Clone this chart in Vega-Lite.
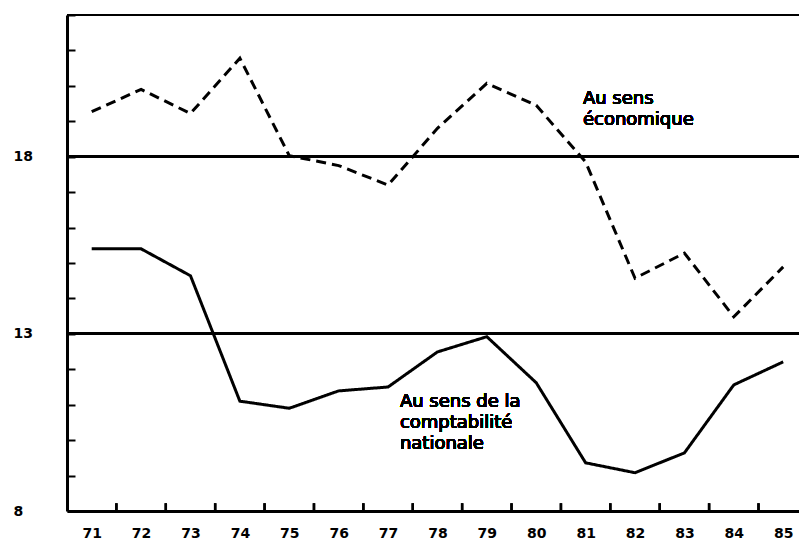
{
  "$schema": "https://vega.github.io/schema/vega-lite/v6.json",
  "width": 732,
  "height": 496,
  "autosize": {"type": "none"},
  "padding": {"left": 67, "top": 15, "right": 0, "bottom": 29},
  "background": "white",
  "resolve": {"axis": {"x": "independent"}},
  "config": {
    "view": {"stroke": null},
    "axis": {
      "grid": false,
      "domainColor": "black",
      "domainWidth": 3,
      "tickColor": "black",
      "tickWidth": 2,
      "labelColor": "black",
      "labelFont": "DejaVu Sans",
      "labelFontWeight": "bold",
      "labelFontSize": 14,
      "labelFlush": false,
      "labelOverlap": false,
      "labelBound": false,
      "title": null
    },
    "axisY": {
      "values": [8, 9, 10, 11, 12, 13, 14, 15, 16, 17, 18, 19, 20, 21, 22],
      "tickSize": -8,
      "labelAlign": "left",
      "labelBaseline": "middle",
      "labelPadding": 62,
      "labelExpr": "datum.value == 8 || datum.value == 13 || datum.value == 18 ? datum.label : ''"
    }
  },
  "data": {
    "values": [
      {"year": 71, "value": 19.27, "series": "économique"},
      {"year": 72, "value": 19.9, "series": "économique"},
      {"year": 73, "value": 19.22, "series": "économique"},
      {"year": 74, "value": 20.78, "series": "économique"},
      {"year": 75, "value": 18.03, "series": "économique"},
      {"year": 76, "value": 17.75, "series": "économique"},
      {"year": 77, "value": 17.2, "series": "économique"},
      {"year": 78, "value": 18.8, "series": "économique"},
      {"year": 79, "value": 20.07, "series": "économique"},
      {"year": 80, "value": 19.45, "series": "économique"},
      {"year": 81, "value": 17.85, "series": "économique"},
      {"year": 82, "value": 14.57, "series": "économique"},
      {"year": 83, "value": 15.28, "series": "économique"},
      {"year": 84, "value": 13.48, "series": "économique"},
      {"year": 85, "value": 14.89, "series": "économique"},
      {"year": 71, "value": 15.4, "series": "comptabilité nationale"},
      {"year": 72, "value": 15.4, "series": "comptabilité nationale"},
      {"year": 73, "value": 14.64, "series": "comptabilité nationale"},
      {"year": 74, "value": 11.1, "series": "comptabilité nationale"},
      {"year": 75, "value": 10.9, "series": "comptabilité nationale"},
      {"year": 76, "value": 11.39, "series": "comptabilité nationale"},
      {"year": 77, "value": 11.5, "series": "comptabilité nationale"},
      {"year": 78, "value": 12.49, "series": "comptabilité nationale"},
      {"year": 79, "value": 12.92, "series": "comptabilité nationale"},
      {"year": 80, "value": 11.62, "series": "comptabilité nationale"},
      {"year": 81, "value": 9.36, "series": "comptabilité nationale"},
      {"year": 82, "value": 9.08, "series": "comptabilité nationale"},
      {"year": 83, "value": 9.64, "series": "comptabilité nationale"},
      {"year": 84, "value": 11.56, "series": "comptabilité nationale"},
      {"year": 85, "value": 12.21, "series": "comptabilité nationale"}
    ]
  },
  "layer": [
    {
      "mark": {"type": "line", "color": "black", "strokeWidth": 3, "strokeCap": "butt"},
      "encoding": {
        "x": {
          "field": "year",
          "type": "quantitative",
          "scale": {"domain": [70.5, 85.32], "nice": false, "zero": false},
          "axis": {
            "orient": "bottom",
            "values": [71, 72, 73, 74, 75, 76, 77, 78, 79, 80, 81, 82, 83, 84, 85],
            "ticks": false,
            "labelPadding": 15,
            "format": "d"
          }
        },
        "y": {
          "field": "value",
          "type": "quantitative",
          "scale": {"domain": [8, 22], "nice": false, "zero": false}
        },
        "detail": {"field": "series"},
        "strokeDash": {
          "field": "series",
          "type": "nominal",
          "scale": {"domain": ["économique", "comptabilité nationale"], "range": [[10, 6], [1, 0]]},
          "legend": null
        }
      }
    },
    {
      "transform": [{"filter": "datum.year < 85"}],
      "mark": {"type": "rule", "color": "black", "strokeWidth": 2.5, "xOffset": 24.7},
      "encoding": {
        "x": {"field": "year", "type": "quantitative", "axis": null},
        "y": {"datum": 8},
        "y2": {"datum": 8.22}
      }
    },
    {
      "mark": {"type": "rule", "color": "black", "strokeWidth": 2.2},
      "encoding": {"y": {"datum": 13}}
    },
    {
      "mark": {"type": "rule", "color": "black", "strokeWidth": 2.2},
      "encoding": {"y": {"datum": 18}}
    },
    {
      "mark": {"type": "rule", "color": "black", "strokeWidth": 2.2},
      "encoding": {"y": {"datum": 22}}
    },
    {
      "mark": {"type": "text", "text": ["Au sens", "économique"], "align": "left", "baseline": "top", "font": "DejaVu Sans", "fontWeight": "normal", "fontSize": 18, "lineHeight": 21, "color": "black"},
      "encoding": {"x": {"datum": 80.945, "axis": null}, "y": {"datum": 19.88}}
    },
    {
      "mark": {"type": "text", "text": ["Au sens de la", "comptabilité", "nationale"], "align": "left", "baseline": "top", "font": "DejaVu Sans", "fontWeight": "normal", "fontSize": 18, "lineHeight": 21, "color": "black"},
      "encoding": {"x": {"datum": 77.24, "axis": null}, "y": {"datum": 11.33}}
    }
  ]
}
